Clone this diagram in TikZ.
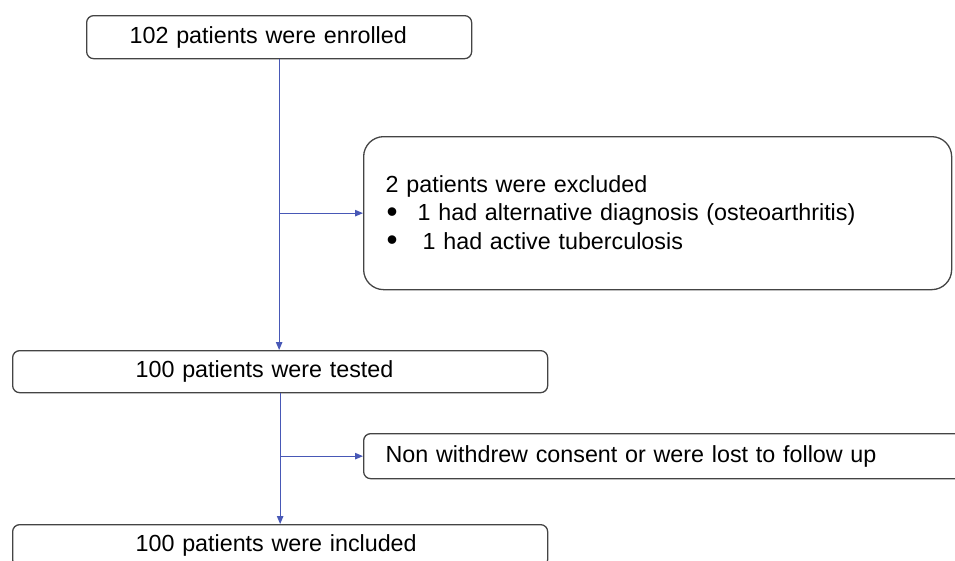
\documentclass[tikz,border=0pt]{standalone}
\usepackage{fontspec}
\setmainfont{Liberation Sans}
\usetikzlibrary{arrows.meta}
\definecolor{linkblue}{RGB}{72,88,182}
\definecolor{boxgray}{RGB}{68,68,68}
\newcommand{\mybullet}{\raisebox{-1.5pt}{\scalebox{1.35}{•}}}
\begin{document}
\begin{tikzpicture}[x=1pt,y=-1pt,
  box/.style={draw=boxgray, line width=1.3pt, rounded corners=7pt, anchor=north west,
    inner xsep=0pt, inner ysep=0pt, align=left,
    font=\fontsize{23.3}{28.5}\selectfont},
  link/.style={draw=linkblue, line width=1pt, -{Triangle[length=8pt,width=6.5pt]}}]
\useasboundingbox (0,0) rectangle (955,560);
\clip (0,0) rectangle (955,560);
\node[box, minimum width=385pt, minimum height=43pt, text width=299pt] (enrolled) at (86,15)
  {102 patients were enrolled};
\node[box, rounded corners=20pt, minimum width=588pt, minimum height=153pt, text width=544pt] (excluded) at (363,136)
  {2 patients were excluded\\
   \hspace*{1pt}\makebox[31pt][l]{\mybullet}1 had alternative diagnosis (osteoarthritis)\\
   \hspace*{1pt}\makebox[36pt][l]{\mybullet}1 had active tuberculosis};
\node[box, minimum width=535pt, minimum height=42pt, text width=289pt] (tested) at (12,350)
  {100 patients were tested};
\node[box, minimum width=612pt, minimum height=45pt, text width=568pt] (lost) at (363,433)
  {Non withdrew consent or were lost to follow up};
\node[box, minimum width=535pt, minimum height=42pt, text width=289pt] (included) at (12,524)
  {100 patients were included};
\coordinate (b1) at (enrolled.south |- excluded.west);
\coordinate (b2) at (tested.south |- lost.west);
\draw[link] (enrolled.south) -- (enrolled.south |- tested.north);
\draw[link] (b1) -- (excluded.west);
\draw[link] (tested.south) -- (tested.south |- included.north);
\draw[link] (b2) -- (lost.west);
\end{tikzpicture}
\end{document}
